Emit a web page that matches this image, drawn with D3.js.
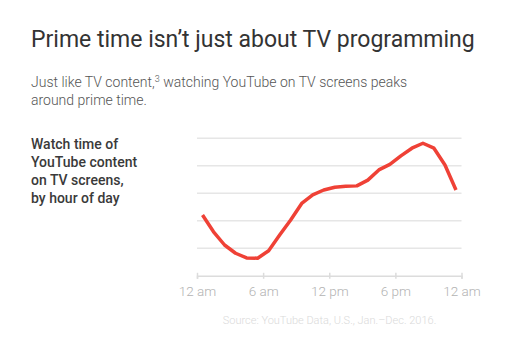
<!DOCTYPE html>
<html>
<head>
<meta charset="utf-8">
<script src="https://cdn.jsdelivr.net/npm/d3@7"></script>
<style>
  body { margin: 0; background: #fff; }
  svg text { font-family: Roboto, "Noto Sans", sans-serif; }
</style>
</head>
<body>
<svg id="chart" width="525" height="352"></svg>
<script>
// hour of day (mid-point of each hour) and relative watch time
const hours = d3.range(24);
const watchTime = [2.21, 1.6, 1.12, 0.82, 0.65, 0.64, 0.91, 1.48, 2.03, 2.63, 2.94, 3.12,
                   3.22, 3.26, 3.27, 3.48, 3.85, 4.05, 4.36, 4.64, 4.82, 4.64, 4.03, 3.12];
const tickHours = [0, 6, 12, 18, 24];
const tickLabels = ["12 am", "6 am", "12 pm", "6 pm", "12 am"];
const gridValues = [1, 2, 3, 4, 5];

const svg = d3.select("#chart");

// titles
svg.append("text")
    .attr("x", 31).attr("y", 46.5)
    .attr("font-size", 23).attr("fill", "#333")
    .text("Prime time isn\u2019t just about TV programming");

let sub = svg.append("text")
    .attr("x", 31).attr("y", 86.5)
    .attr("font-size", 14).attr("font-weight", 300).attr("fill", "#555");
sub.append("tspan").text("Just like TV content,");
sub.append("tspan").attr("dy", -5).attr("font-size", 9).text("3");
sub.append("tspan").attr("dy", 5).text(" watching YouTube on TV screens peaks");
svg.append("text")
    .attr("x", 31).attr("y", 105)
    .attr("font-size", 14).attr("font-weight", 300).attr("fill", "#555")
    .text("around prime time.");

// side label
let labelLines = ["Watch time of", "YouTube content", "on TV screens,", "by hour of day"];
svg.append("g").selectAll("text")
    .data(labelLines)
    .join("text")
    .attr("x", 31)
    .attr("y", (d, i) => 148.5 + i * 18.3)
    .attr("font-size", 14).attr("font-weight", 500).attr("fill", "#3a3a3a")
    .text(d => d);

// scales
let x = d3.scaleLinear().domain([0, 24]).range([197, 461.5]);
let y = d3.scaleLinear().domain([0, 5]).range([275.8, 138.3]);

// gridlines
svg.append("g").selectAll("line")
    .data(gridValues)
    .join("line")
    .attr("x1", x(0)).attr("x2", x(24))
    .attr("y1", d => y(d)).attr("y2", d => y(d))
    .attr("stroke", "#e6e6e6").attr("stroke-width", 1.5);

// x axis
let xAxis = d3.axisBottom(x)
    .tickValues(tickHours)
    .tickSize(3)
    .tickFormat((d, i) => tickLabels[i]);
let axisG = svg.append("g")
    .attr("transform", "translate(0," + y(0) + ")")
    .call(xAxis);
axisG.select(".domain").attr("stroke", "#dcdcdc").attr("stroke-width", 1.5);
axisG.selectAll(".tick line")
    .attr("stroke", "#dcdcdc").attr("stroke-width", 1.5)
    .attr("y1", -3).attr("y2", 3);
axisG.selectAll(".tick text")
    .attr("y", 20.5)
    .attr("dy", 0)
    .attr("font-size", 13.5)
    .attr("font-weight", 300)
    .attr("font-family", "Roboto, sans-serif")
    .attr("fill", "#b3b3b3");

// the line
let line = d3.line()
    .x(d => x(d + 0.5))
    .y((d, i) => y(watchTime[i]));
svg.append("path")
    .datum(hours)
    .attr("d", line)
    .attr("fill", "none")
    .attr("stroke", "#ef4136")
    .attr("stroke-width", 3.5)
    .attr("stroke-linejoin", "round");

// source
svg.append("text")
    .attr("x", 329.5).attr("y", 323.5)
    .attr("text-anchor", "middle")
    .attr("font-size", 11).attr("font-weight", 300)
    .attr("fill", "#dadada")
    .text("Source: YouTube Data, U.S., Jan.\u2013Dec. 2016.");
</script>
</body>
</html>
